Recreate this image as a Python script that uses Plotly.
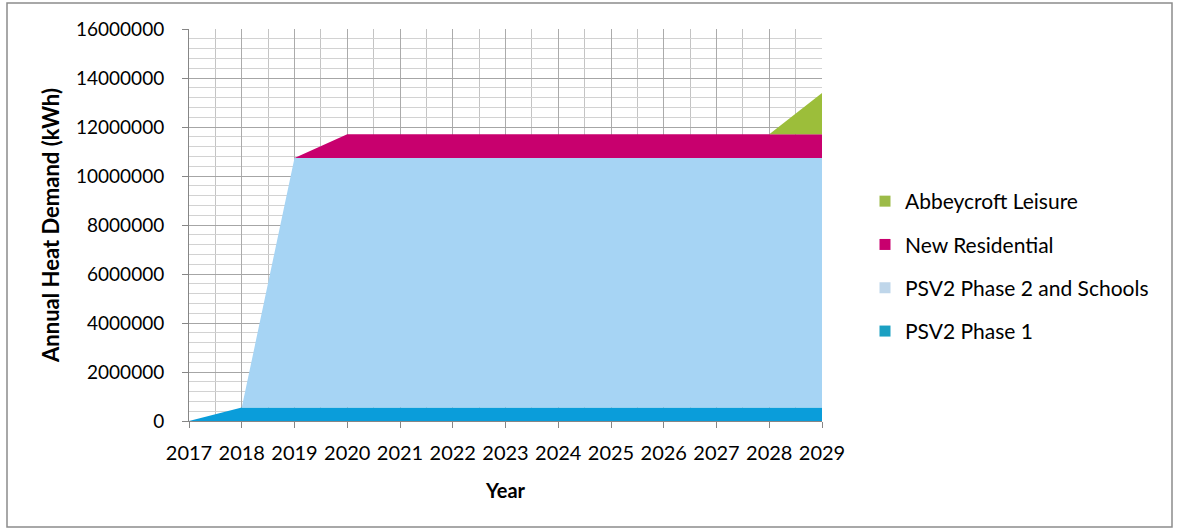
import plotly.graph_objects as go

# Annual heat demand by development, stacked by year
years = [2017, 2018, 2019, 2020, 2021, 2022, 2023, 2024, 2025, 2026, 2027, 2028, 2029]
psv2_phase1 = [0, 550000, 550000, 550000, 550000, 550000, 550000, 550000, 550000, 550000, 550000, 550000, 550000]
psv2_phase2_schools = [0, 0, 10180000, 10180000, 10180000, 10180000, 10180000, 10180000, 10180000, 10180000, 10180000, 10180000, 10180000]
new_residential = [0, 0, 0, 970000, 970000, 970000, 970000, 970000, 970000, 970000, 970000, 970000, 970000]
abbeycroft_leisure = [0, 0, 0, 0, 0, 0, 0, 0, 0, 0, 0, 0, 1690000]

series = [
    ("PSV2 Phase 1", psv2_phase1, "#0A9DDA", "#1BA0C2"),
    ("PSV2 Phase 2 and Schools", psv2_phase2_schools, "#A6D4F4", "#BFD6EA"),
    ("New Residential", new_residential, "#C8006E", "#C8006E"),
    ("Abbeycroft Leisure", abbeycroft_leisure, "#9CBE3A", "#9CBB48"),
]

FONT = "Lato"
fig = go.Figure()

for name, vals, fill, swatch in series:
    fig.add_trace(go.Scatter(
        x=years, y=vals, name=name, mode="lines",
        stackgroup="demand", fillcolor=fill,
        line=dict(width=0, color=fill), showlegend=False,
    ))

# Square swatches for the legend, top layer listed first
for i, (name, vals, fill, swatch) in enumerate(reversed(series)):
    fig.add_trace(go.Scatter(
        x=[None], y=[None], name=name, mode="markers",
        marker=dict(symbol="square", size=11, color=swatch),
        legendgroup=f"g{i}", showlegend=True,
    ))

W, H = 1179, 531
L, R, T, B = 189, 357, 29, 110
pw, ph = W - L - R, H - T - B

fig.update_layout(
    width=W, height=H,
    margin=dict(l=L, r=R, t=T, b=B),
    paper_bgcolor="white", plot_bgcolor="white",
    font=dict(family=FONT, size=19, color="#000000"),
    showlegend=True,
    legend=dict(
        x=(865 - L) / pw, y=(H - 181 - B) / ph, xanchor="left", yanchor="top",
        traceorder="grouped", tracegroupgap=13,
        font=dict(family=FONT, size=21, color="#000000"),
        itemwidth=30, bgcolor="rgba(0,0,0,0)",
    ),
    xaxis=dict(
        range=[2017, 2029], tickmode="linear", tick0=2017, dtick=1,
        showgrid=True, gridcolor="#ABABAB", gridwidth=1,
        minor=dict(dtick=0.5, tick0=2017, showgrid=True, gridcolor="#C4C4C4", gridwidth=1),
        showline=True, linecolor="#868686", linewidth=1,
        ticks="outside", ticklen=6, tickcolor="#868686",
        ticklabelstandoff=8,
        tickfont=dict(family=FONT, size=20),
        title=dict(text="<b>Year</b>", font=dict(family=FONT, size=20), standoff=20),
        zeroline=False,
    ),
    yaxis=dict(
        range=[0, 16000000], tickmode="linear", tick0=0, dtick=2000000,
        tickformat="d",
        showgrid=True, gridcolor="#A6A6A6", gridwidth=1,
        minor=dict(dtick=400000, tick0=0, showgrid=True, gridcolor="#D2D2D2", gridwidth=1),
        showline=True, linecolor="#868686", linewidth=1,
        ticks="outside", ticklen=6, tickcolor="#868686",
        ticklabelstandoff=14,
        tickfont=dict(family=FONT, size=19),
        title=dict(text="<b>Annual Heat Demand (kWh)</b>", font=dict(family=FONT, size=22), standoff=10),
        zeroline=False,
    ),
)

# Chart frame
fig.add_shape(
    type="rect", xref="paper", yref="paper",
    x0=(7 - L) / pw, x1=(1172 - L) / pw,
    y0=(H - B - 527) / ph, y1=(H - B - 3) / ph,
    line=dict(color="#8C8C8C", width=1.5), fillcolor="rgba(0,0,0,0)", layer="below",
)

fig.write_html("out.html")
